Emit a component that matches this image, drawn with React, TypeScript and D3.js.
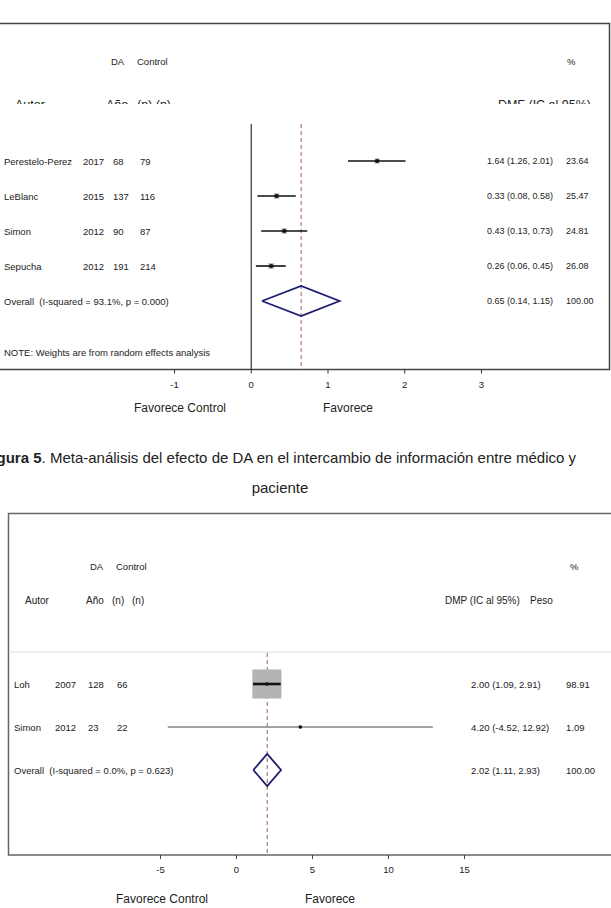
import React from 'react';
import * as d3 from 'd3';

// Figura 5 (top): DA vs control, information exchange
const studies1 = ['Perestelo-Perez', 'LeBlanc', 'Simon', 'Sepucha'];
const years1 = [2017, 2015, 2012, 2012];
const nDA1 = [68, 137, 90, 191];
const nCtrl1 = [79, 116, 87, 214];
const est1 = [1.64, 0.33, 0.43, 0.26];
const lo1 = [1.26, 0.08, 0.13, 0.06];
const hi1 = [2.01, 0.58, 0.73, 0.45];
const weight1 = [23.64, 25.47, 24.81, 26.08];
const overall1 = [0.65, 0.14, 1.15];
const overallLabel1 = 'Overall  (I-squared = 93.1%, p = 0.000)';
const ticks1 = [-1, 0, 1, 2, 3];

// bottom panel
const studies2 = ['Loh', 'Simon'];
const years2 = [2007, 2012];
const nDA2 = [128, 23];
const nCtrl2 = [66, 22];
const est2 = [2.0, 4.2];
const lo2 = [1.09, -4.52];
const hi2 = [2.91, 12.92];
const weight2 = [98.91, 1.09];
const overall2 = [2.02, 1.11, 2.93];
const overallLabel2 = 'Overall  (I-squared = 0.0%, p = 0.623)';
const ticks2 = [-5, 0, 5, 10, 15];

// plain hyphen for negatives, like the original Stata output
const f2 = d3.formatLocale({ decimal: '.', thousands: ',', grouping: [3], currency: ['', ''], minus: '-' }).format('.2f');
const ci = (e: number, l: number, h: number) => `${f2(e)} (${f2(l)}, ${f2(h)})`;

const FONT = '"Liberation Sans", Arial, sans-serif';
const INK = '#222';
const DASH = '#a05a68';
const NAVY = '#1d1d70';
const pre = { whiteSpace: 'pre' as const };

function diamond(x: d3.ScaleLinear<number, number>, y: number, h: number, [e, l, r]: number[]) {
  return d3.line()([
    [x(l), y],
    [x(e), y - h],
    [x(r), y],
    [x(e), y + h],
    [x(l), y],
  ]) as string;
}

function TopPanel() {
  const x = d3.scaleLinear().domain([-1, 3]).range([174.5, 481.5]);
  const rows = [...studies1, 'Overall'];
  const y = d3.scalePoint<string>().domain(rows).range([161, 301]);
  const box = d3.scaleSqrt().domain([0, 100]).range([0, 11]);
  const top = 124;
  const bottom = 369.5;
  return (
    <g fontFamily={FONT} fill={INK}>
      <defs>
        <clipPath id="hdrclip">
          <rect x={0} y={80} width={611} height={24} />
        </clipPath>
      </defs>
      <rect x={-2} y={23.5} width={611.5} height={bottom - 23.5} fill="none" stroke="#444" strokeWidth={1.5} />
      <text x={111} y={61} fontSize={9.5} dominantBaseline="central">DA</text>
      <text x={137} y={61} fontSize={9.5} dominantBaseline="central">Control</text>
      <text x={567} y={61} fontSize={9.5} dominantBaseline="central">%</text>
      <g clipPath="url(#hdrclip)" fontSize={12.5}>
        <text x={15} y={104.5} dominantBaseline="central">Autor</text>
        <text x={106} y={104.5} dominantBaseline="central">Año</text>
        <text x={137} y={104.5} dominantBaseline="central">(n) (n)</text>
        <text x={591} y={104.5} textAnchor="end" dominantBaseline="central">DMF (IC al 95%)</text>
      </g>

      <line x1={x(0)} x2={x(0)} y1={top} y2={bottom} stroke="#333" strokeWidth={1.2} />
      <line x1={x(overall1[0])} x2={x(overall1[0])} y1={top} y2={bottom} stroke={DASH} strokeWidth={1} strokeDasharray="4,3" />

      {studies1.map((s, i) => {
        const yy = y(s) as number;
        const b = box(weight1[i]);
        return (
          <g key={s} fontSize={9.5}>
            <text x={4} y={yy} dominantBaseline="central">{s}</text>
            <text x={83} y={yy} dominantBaseline="central">{years1[i]}</text>
            <text x={113} y={yy} dominantBaseline="central">{nDA1[i]}</text>
            <text x={140} y={yy} dominantBaseline="central">{nCtrl1[i]}</text>
            <rect x={x(est1[i]) - b / 2} y={yy - b / 2} width={b} height={b} fill="#b0b0b0" />
            <line x1={x(lo1[i])} x2={x(hi1[i])} y1={yy} y2={yy} stroke="#111" strokeWidth={1.6} />
            <circle cx={x(est1[i])} cy={yy} r={2} fill="#111" />
            <text x={487} y={yy} fontSize={9} dominantBaseline="central">{ci(est1[i], lo1[i], hi1[i])}</text>
            <text x={566} y={yy} fontSize={9} dominantBaseline="central">{f2(weight1[i])}</text>
          </g>
        );
      })}

      <g fontSize={9.5}>
        <text x={4} y={y('Overall')} dominantBaseline="central" style={pre}>{overallLabel1}</text>
        <path d={diamond(x, y('Overall') as number, 15, overall1)} fill="none" stroke={NAVY} strokeWidth={1.8} />
        <text x={487} y={y('Overall')} fontSize={9} dominantBaseline="central">{ci(overall1[0], overall1[1], overall1[2])}</text>
        <text x={566} y={y('Overall')} fontSize={9} dominantBaseline="central">{f2(100)}</text>
        <text x={4} y={352} dominantBaseline="central">NOTE: Weights are from random effects analysis</text>
      </g>

      {ticks1.map((t) => (
        <g key={t} transform={`translate(${x(t)},${bottom})`}>
          <line y1={0} y2={4} stroke="#333" strokeWidth={1} />
          <text y={15} fontSize={9.5} textAnchor="middle" dominantBaseline="central">{t}</text>
        </g>
      ))}
      <text x={180} y={408} fontSize={12} textAnchor="middle" dominantBaseline="central">Favorece Control</text>
      <text x={348} y={408} fontSize={12} textAnchor="middle" dominantBaseline="central">Favorece</text>
    </g>
  );
}

function BottomPanel() {
  const x = d3.scaleLinear().domain([-5, 15]).range([160.5, 464.5]);
  const rows = [...studies2, 'Overall'];
  const y = d3.scalePoint<string>().domain(rows).range([684, 770]);
  const box = d3.scaleSqrt().domain([0, 100]).range([0, 29.3]);
  const bottom = 855;
  return (
    <g fontFamily={FONT} fill={INK}>
      <rect x={8.5} y={513.5} width={610} height={bottom - 513.5} fill="none" stroke="#666" strokeWidth={1.5} />
      <g fontSize={9.5}>
        <text x={90} y={566} dominantBaseline="central">DA</text>
        <text x={116} y={566} dominantBaseline="central">Control</text>
        <text x={570} y={566} dominantBaseline="central">%</text>
      </g>
      <g fontSize={10}>
        <text x={25} y={600} dominantBaseline="central">Autor</text>
        <text x={86} y={600} dominantBaseline="central">Año</text>
        <text x={112} y={600} dominantBaseline="central">(n)</text>
        <text x={132} y={600} dominantBaseline="central">(n)</text>
        <text x={445} y={600} dominantBaseline="central">DMP (IC al 95%)</text>
        <text x={530} y={600} dominantBaseline="central">Peso</text>
      </g>
      <line x1={9} x2={611} y1={652} y2={652} stroke="#dcdcdc" strokeWidth={1.2} />
      <line x1={x(overall2[0])} x2={x(overall2[0])} y1={653} y2={bottom} stroke={DASH} strokeWidth={1} strokeDasharray="4,3" />

      {studies2.map((s, i) => {
        const yy = y(s) as number;
        const b = box(weight2[i]);
        const big = b > 10;
        return (
          <g key={s} fontSize={9.5}>
            <text x={14} y={yy} dominantBaseline="central">{s}</text>
            <text x={55} y={yy} dominantBaseline="central">{years2[i]}</text>
            <text x={88} y={yy} dominantBaseline="central">{nDA2[i]}</text>
            <text x={117} y={yy} dominantBaseline="central">{nCtrl2[i]}</text>
            <rect x={x(est2[i]) - b / 2} y={yy - b / 2} width={b} height={b} fill="#b4b4b4" />
            <line x1={x(lo2[i])} x2={x(hi2[i])} y1={yy} y2={yy} stroke={big ? '#111' : '#858585'} strokeWidth={big ? 2.6 : 1.5} />
            <circle cx={x(est2[i])} cy={yy} r={1.8} fill="#111" />
            <text x={471} y={yy} dominantBaseline="central">{ci(est2[i], lo2[i], hi2[i])}</text>
            <text x={566} y={yy} dominantBaseline="central">{f2(weight2[i])}</text>
          </g>
        );
      })}

      <g fontSize={9.5}>
        <text x={14} y={y('Overall')} dominantBaseline="central" style={pre}>{overallLabel2}</text>
        <path d={diamond(x, y('Overall') as number, 16, overall2)} fill="none" stroke={NAVY} strokeWidth={1.8} />
        <text x={471} y={y('Overall')} dominantBaseline="central">{ci(overall2[0], overall2[1], overall2[2])}</text>
        <text x={566} y={y('Overall')} dominantBaseline="central">{f2(100)}</text>
      </g>

      {ticks2.map((t) => (
        <g key={t} transform={`translate(${x(t)},${bottom})`}>
          <line y1={0} y2={4} stroke="#444" strokeWidth={1} />
          <text y={14} fontSize={9.5} textAnchor="middle" dominantBaseline="central">{t}</text>
        </g>
      ))}
      <text x={162} y={899} fontSize={12} textAnchor="middle" dominantBaseline="central">Favorece Control</text>
      <text x={330} y={899} fontSize={12} textAnchor="middle" dominantBaseline="central">Favorece</text>
    </g>
  );
}

export default function App() {
  return (
    <svg
      width={611}
      height={908}
      viewBox="0 0 611 908"
      style={{ position: 'absolute', left: 0, top: 0, background: '#fff' }}
    >
      <rect width={611} height={908} fill="#fff" />
      <TopPanel />
      <g fontFamily={FONT} fontSize={15} fill="#222">
        <text x={576} y={457} textAnchor="end" dominantBaseline="central">
          <tspan fontWeight="bold">Figura 5</tspan>. Meta-análisis del efecto de DA en el intercambio de información entre médico y
        </text>
        <text x={280} y={487} textAnchor="middle" dominantBaseline="central">paciente</text>
      </g>
      <BottomPanel />
    </svg>
  );
}
